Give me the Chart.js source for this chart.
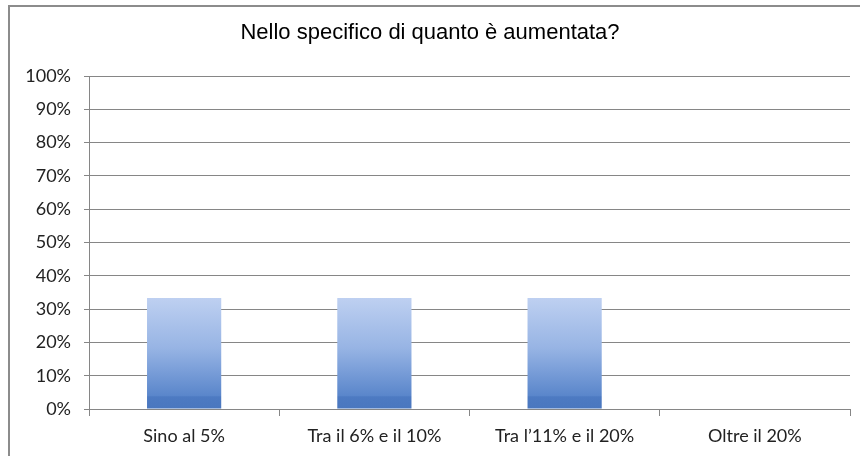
<!DOCTYPE html>
<html>
<head>
<meta charset="utf-8">
<script src="https://cdn.jsdelivr.net/npm/chart.js@4/dist/chart.umd.min.js"></script>
<style>
  html, body { margin: 0; padding: 0; background: #fff; }
  #wrap { width: 860px; height: 456px; }
</style>
</head>
<body>
<div id="wrap"><canvas id="chart" width="860" height="456"></canvas></div>
<script>
const titleText = 'Nello specifico di quanto è aumentata?';
const categories = ['Sino al 5%', 'Tra il 6% e il 10%', 'Tra l\u201911% e il 20%', 'Oltre il 20%'];
const percentages = [33.3, 33.3, 33.3, 0];

// gray frame round the whole chart, like the Excel chart box
const framePlugin = {
    id: 'frame',
    beforeDraw(chart) {
        const ctx = chart.ctx;
        ctx.save();
        ctx.fillStyle = '#ffffff';
        ctx.fillRect(0, 0, chart.width, chart.height);
        ctx.strokeStyle = '#8c8c8c';
        ctx.lineWidth = 2;
        ctx.strokeRect(9, 6, chart.width + 20, chart.height + 20);
        ctx.restore();
    }
};

function barFill(context) {
    const chart = context.chart;
    const area = chart.chartArea;
    if (!area) return '#6a93d4';
    const y = chart.scales.y;
    const top = y.getPixelForValue(context.raw || 0);
    const bottom = y.getPixelForValue(0);
    if (bottom - top < 2) return '#6a93d4';
    const g = chart.ctx.createLinearGradient(0, top, 0, bottom);
    g.addColorStop(0, '#bed0f1');
    g.addColorStop(0.45, '#97b4e4');
    g.addColorStop(0.88, '#5a86cb');
    g.addColorStop(0.89, '#4d7ac2');
    g.addColorStop(1, '#4a77bf');
    return g;
}

const ctx = document.getElementById('chart').getContext('2d');
new Chart(ctx, {
    type: 'bar',
    data: {
        labels: categories,
        datasets: [{
            data: percentages,
            backgroundColor: barFill,
            borderWidth: 0,
            barPercentage: 0.39,
            categoryPercentage: 1
        }]
    },
    plugins: [framePlugin],
    options: {
        responsive: false,
        animation: false,
        layout: { padding: { left: 10, right: 10, top: 0, bottom: 0 } },
        scales: {
            x: {
                offset: true,
                grid: {
                    display: true,
                    offset: true,
                    drawOnChartArea: false,
                    drawTicks: true,
                    tickLength: 7,
                    color: '#868686'
                },
                border: { display: true, color: '#868686', width: 1 },
                ticks: {
                    color: '#222',
                    padding: 9,
                    maxRotation: 0,
                    font: { family: 'Lato', size: 18 }
                },
                afterFit(scale) { scale.height = 47; }
            },
            y: {
                min: 0,
                max: 100,
                ticks: {
                    stepSize: 10,
                    color: '#222',
                    padding: 13,
                    font: { family: 'Lato', size: 18 },
                    callback: v => v + '%'
                },
                grid: {
                    color: '#868686',
                    tickLength: 5,
                    drawTicks: true
                },
                border: { display: true, color: '#868686', width: 1 },
                afterFit(scale) { scale.width = 79; }
            }
        },
        plugins: {
            legend: { display: false },
            tooltip: { enabled: false },
            title: {
                display: true,
                text: titleText,
                color: '#000',
                font: { family: 'Liberation Sans', size: 22, weight: 'normal' },
                padding: { top: 20, bottom: 29.6 }
            }
        }
    }
});
</script>
</body>
</html>
